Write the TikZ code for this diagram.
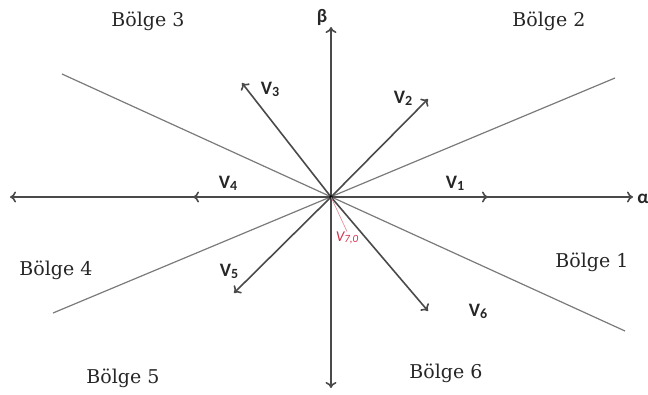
\documentclass[tikz,border=0pt]{standalone}
\usepackage{fontspec}
\setmainfont{DejaVu Serif}
\newfontfamily\vfont[BoldFont={Carlito Bold}]{Carlito}
\usetikzlibrary{arrows.meta}
\definecolor{axcol}{HTML}{4A4A4A}
\definecolor{regcol}{HTML}{7A7A7A}
\definecolor{redcol}{HTML}{D0304A}
\newcommand{\vsub}[1]{\raisebox{-2pt}{\fontsize{14}{15}\selectfont #1}}
\tikzset{
  axis/.style={draw=axcol, line width=1.6pt, {To[length=6pt,width=11pt]}-{To[length=6pt,width=11pt]}},
  vec/.style={draw=axcol, line width=1.6pt, -{To[length=6pt,width=11pt]}},
  region/.style={draw=regcol, line width=1.2pt},
  bolge/.style={font=\fontsize{19}{22}\selectfont, text=black!85, inner sep=0pt},
  vlab/.style={font=\vfont\bfseries\fontsize{19}{21}\selectfont, text=black!85, inner sep=0pt},
}
\begin{document}
\begin{tikzpicture}[x=1pt,y=-1pt]
\useasboundingbox (0,0) rectangle (648,394);
\coordinate (O) at (331,197);
% region boundaries
\coordinate (r1a) at (62,74);
\coordinate (r1b) at (625,331);
\coordinate (r2a) at (53,313);
\coordinate (r2b) at (615,78);
\draw[region] (r1a) -- (r1b);
\draw[region] (r2a) -- (r2b);
% axes
\coordinate (xl) at (10,197);
\coordinate (xr) at (633,197);
\coordinate (yt) at (331,27);
\coordinate (yb) at (331,388);
\draw[axis] (xl) -- (xr);
\draw[axis] (yb) -- (yt);
% vectors
\coordinate (v1) at (488,197);
\coordinate (v2) at (428,99);
\coordinate (v3) at (242,83);
\coordinate (v4) at (193,197);
\coordinate (v5) at (234,293);
\coordinate (v6) at (428,311);
\foreach \v in {v1,v2,v3,v4,v5,v6} \draw[vec] (O) -- (\v);
\fill[black] (O) circle (1.8pt);
% labels
\node[vlab] (beta) at (322,17) {β};
\node[vlab] (alpha) at (643,199) {α};
\node[vlab] (l1) at (455,183) {V\vsub{1}};
\node[vlab] (l2) at (403,98) {V\vsub{2}};
\node[vlab] (l3) at (270,89) {V\vsub{3}};
\node[vlab] (l4) at (228,183) {V\vsub{4}};
\node[vlab] (l5) at (229,271) {V\vsub{5}};
\node[vlab] (l6) at (478,311) {V\vsub{6}};
\node[font=\vfont\itshape\fontsize{15}{17}\selectfont, text=redcol, inner sep=0pt] (l7) at (347,238) {V\raisebox{-1.5pt}{\fontsize{11}{12}\selectfont 7,0}};
\draw[redcol!60, line width=0.6pt] (O) -- (l7.north);
% regions
\node[bolge] (b1) at (592,262) {Bölge 1};
\node[bolge] (b2) at (549,21) {Bölge 2};
\node[bolge] (b3) at (148,21) {Bölge 3};
\node[bolge] (b4) at (56,270) {Bölge 4};
\node[bolge] (b5) at (123,378) {Bölge 5};
\node[bolge] (b6) at (446,373) {Bölge 6};
\end{tikzpicture}
\end{document}
